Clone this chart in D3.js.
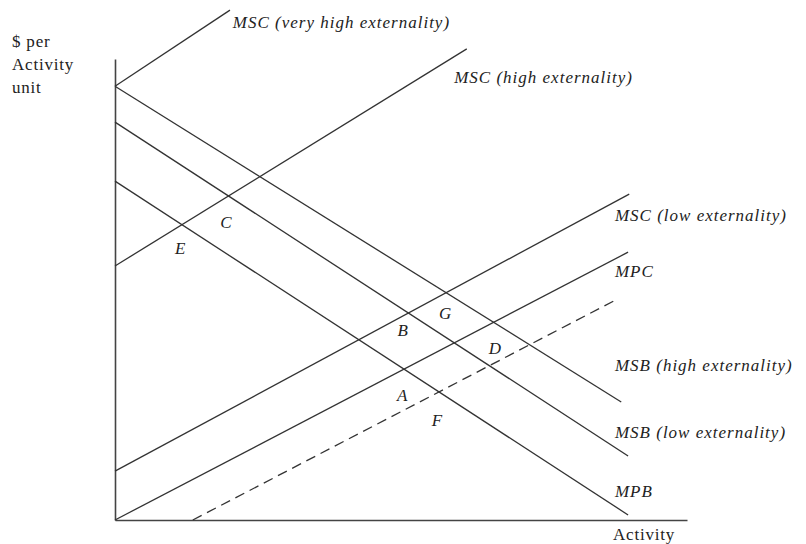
<!DOCTYPE html>
<html>
<head>
<meta charset="utf-8">
<script src="https://cdn.jsdelivr.net/npm/d3@7"></script>
<style>
  body { margin: 0; background: #fff; }
  text { font-family: "Liberation Serif", "DejaVu Serif", serif; fill: #222; }
  .lbl { font-style: italic; font-size: 17px; letter-spacing: 1px; }
  .pt { font-style: italic; font-size: 17px; }
  .ax { font-size: 17px; letter-spacing: 0.8px; }
</style>
</head>
<body>
<svg id="chart" width="806" height="544"></svg>
<script>
// curves, each one straight segment [activity, $ per unit]
var curveNames = ["MSC (very high externality)", "MSC (high externality)", "MSC (low externality)",
                  "MPC", "MSB (high externality)", "MSB (low externality)", "MPB", "dashed"];
var curveStart = [[0, 94.1], [0, 55.1], [0, 10.6], [0, 0], [0, 94.1], [0, 86.3], [0, 73.5], [13.6, 0]];
var curveEnd   = [[20.1, 110.6], [61.5, 102.2], [89.9, 70.7], [89.7, 58.1],
                  [88.5, 25.6], [89.7, 13.9], [89.7, 1.1], [87.8, 47.9]];

// where each curve's name sits
var labelAt = [[20.6, 108.0], [59.3, 96.1], [87.4, 66.2], [87.4, 54.0],
               [87.4, 33.6], [87.4, 19.1], [87.4, 6.3]];

// lettered points
var pointNames = ["C", "E", "B", "G", "D", "A", "F"];
var pointAt = [[19.4, 64.6], [11.4, 59.0], [50.3, 41.2], [57.7, 44.9],
               [66.4, 37.3], [50.2, 27.1], [56.3, 21.7]];

var yTitle = ["$ per", "Activity", "unit"];
var xTitle = "Activity";

var svg = d3.select("#chart");

var x = d3.scaleLinear().domain([0, 100]).range([115, 687]);
var y = d3.scaleLinear().domain([0, 100]).range([520, 59]);

// bare axes, no ticks
svg.append("g")
    .attr("transform", "translate(0,520)")
    .call(d3.axisBottom(x).tickValues([]).tickSizeOuter(0));
svg.append("g")
    .attr("transform", "translate(115,0)")
    .call(d3.axisLeft(y).tickValues([]).tickSizeOuter(0));
svg.selectAll(".domain").attr("stroke", "#444").attr("stroke-width", 1.6);

var line = d3.line()
    .x(function(d) { return x(d[0]); })
    .y(function(d) { return y(d[1]); });

svg.selectAll("path.curve")
    .data(curveNames)
  .enter().append("path")
    .attr("class", "curve")
    .attr("d", function(d, i) { return line([curveStart[i], curveEnd[i]]); })
    .attr("fill", "none")
    .attr("stroke", "#333")
    .attr("stroke-width", 1.3)
    .attr("stroke-dasharray", function(d) { return d == "dashed" ? "10,6" : null; });

svg.selectAll("text.lbl")
    .data(labelAt)
  .enter().append("text")
    .attr("class", "lbl")
    .attr("x", function(d) { return x(d[0]); })
    .attr("y", function(d) { return y(d[1]); })
    .attr("dy", "0.35em")
    .text(function(d, i) { return curveNames[i]; });

svg.selectAll("text.pt")
    .data(pointAt)
  .enter().append("text")
    .attr("class", "pt")
    .attr("x", function(d) { return x(d[0]); })
    .attr("y", function(d) { return y(d[1]); })
    .attr("dy", "0.35em")
    .attr("text-anchor", "middle")
    .text(function(d, i) { return pointNames[i]; });

svg.append("text")
    .attr("class", "ax")
    .attr("x", 12)
    .attr("y", 47)
  .selectAll("tspan")
    .data(yTitle)
  .enter().append("tspan")
    .attr("x", 12)
    .attr("dy", function(d, i) { return i ? 23 : 0; })
    .text(function(d) { return d; });

svg.append("text")
    .attr("class", "ax")
    .attr("x", 613)
    .attr("y", 540)
    .text(xTitle);
</script>
</body>
</html>
